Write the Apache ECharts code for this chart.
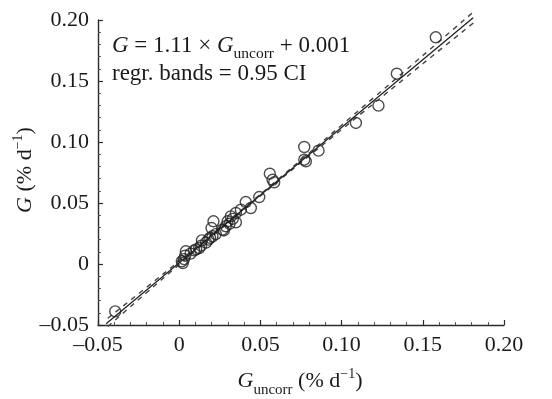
<!DOCTYPE html>
<html><head><meta charset="utf-8">
<script src="https://cdn.jsdelivr.net/npm/echarts@6/dist/echarts.min.js"></script>
<style>html,body{margin:0;padding:0;background:#fff}#c{width:552px;height:399px}</style>
</head><body><div id="c"></div>
<script>
// ---- data ----
const pointsX = [-0.0394,0.0016,0.0022,0.0030,0.0037,0.0041,0.0070,0.0092,0.0105,0.0123,0.0140,0.0135,0.0165,0.0180,0.0190,0.0199,0.0211,0.0205,0.0225,0.0267,0.0275,0.0287,0.0298,0.0318,0.0310,0.0330,0.0349,0.0349,0.0380,0.0410,0.0441,0.0493,0.0558,0.0575,0.0585,0.0770,0.0770,0.0780,0.0858,0.1088,0.1227,0.1340,0.1580];
const pointsY = [-0.0388,0.0022,0.0008,0.0040,0.0068,0.0104,0.0085,0.0112,0.0120,0.0131,0.0194,0.0150,0.0175,0.0200,0.0215,0.0295,0.0350,0.0227,0.0245,0.0281,0.0275,0.0309,0.0350,0.0390,0.0330,0.0370,0.0418,0.0342,0.0445,0.0508,0.0459,0.0549,0.0740,0.0690,0.0670,0.0959,0.0855,0.0842,0.0929,0.1156,0.1298,0.1560,0.1858];
const fitX = [-0.045, 0.181];
const fitY = [-0.0490, 0.2019];
const bandX = [-0.044,-0.02,0.0,0.02,0.04,0.06,0.08,0.10,0.12,0.14,0.16,0.182];
const bandUpper = [-0.0445,-0.0190,0.0024,0.0241,0.0461,0.0684,0.0910,0.1138,0.1366,0.1594,0.1823,0.2075];
const bandLower = [-0.0512,-0.0234,-0.0004,0.0223,0.0447,0.0668,0.0886,0.1102,0.1318,0.1534,0.1749,0.1985];
const xTicks = [-0.05,0,0.05,0.10,0.15,0.20];
const yTicks = [-0.05,0,0.05,0.10,0.15,0.20];
const annotation1 = ['G',' = 1.11 × ','G','uncorr',' + 0.001'];
const annotation2 = 'regr. bands = 0.95 CI';

// ---- helpers ----
const FAM = '"Liberation Serif","DejaVu Serif",serif';
const cv = document.createElement('canvas').getContext('2d');
function fnt(sz, it){ return (it?'italic ':'') + sz + 'px ' + FAM; }
function measure(t, sz, it){ cv.font = fnt(sz,it); return cv.measureText(t).width; }
function fmt(v){ if (Math.abs(v) < 1e-9) return '0'; const s = Math.abs(v).toFixed(2); return (v<0?'\u2013':'') + s; }
function row(segs, x0, base){
  const out = []; let x = x0;
  segs.forEach(s => {
    const w = measure(s.t, s.sz, s.it);
    out.push({type:'text', x: x, y: base + (s.dy||0) - 0.30*s.sz, silent:true,
      style:{text:s.t, font: fnt(s.sz,s.it), fill:'#1a1a1a', align:'left', verticalAlign:'middle'}});
    x += w;
  });
  return {children: out, width: x - x0};
}
function rowWidth(segs){ return segs.reduce((a,s)=>a+measure(s.t,s.sz,s.it),0); }

const chart = echarts.init(document.getElementById('c'), null, {renderer:'canvas'});

const a1 = [
  {t:annotation1[0], sz:23, it:true},
  {t:annotation1[1], sz:23},
  {t:annotation1[2], sz:23, it:true},
  {t:annotation1[3], sz:15.5, dy:6},
  {t:annotation1[4], sz:23}
];
const a2 = [{t:annotation2, sz:23}];
const xt = [
  {t:'G', sz:22, it:true},
  {t:'uncorr', sz:15, dy:7},
  {t:' (% d', sz:22},
  {t:'\u22121', sz:14, dy:-9},
  {t:')', sz:22}
];
const yt = [
  {t:'G', sz:22, it:true},
  {t:' (% d', sz:22},
  {t:'\u22121', sz:14, dy:-9},
  {t:')', sz:22}
];
const xtW = rowWidth(xt), ytW = rowWidth(yt);

const graphics = [
  ...row(a1, 112, 53).children,
  ...row(a2, 112, 81).children,
  ...row(xt, 300 - xtW/2, 388).children,
  {type:'group', x: 32, y: 170, rotation: Math.PI/2, children: row(yt, -ytW/2, 0).children}
];

const axisCommon = {
  type:'value', interval:0.05,
  axisLine:{show:true, onZero:false, lineStyle:{color:'#2b2b2b', width:1.4}},
  axisTick:{show:true, inside:true, length:5, lineStyle:{color:'#2b2b2b', width:1.2}},
  minorTick:{show:true, splitNumber:5, length:3, lineStyle:{color:'#555', width:1}},
  splitLine:{show:false},
  axisLabel:{formatter:fmt, fontFamily:FAM, fontSize:22, color:'#1a1a1a', margin:9}
};

chart.setOption({
  animation:false,
  backgroundColor:'#fff',
  grid:{left:98, right:48, top:20, bottom:74},
  xAxis:Object.assign({}, axisCommon, {min:xTicks[0], max:xTicks[xTicks.length-1]}),
  yAxis:Object.assign({}, axisCommon, {min:yTicks[0], max:yTicks[yTicks.length-1]}),
  series:[
    {type:'line', data:bandUpper.map((v,i)=>[bandX[i],v]), showSymbol:false, symbol:'none', clip:false, smooth:true,
      lineStyle:{color:'#444', width:1.4, type:[5,5]}, z:2},
    {type:'line', data:bandLower.map((v,i)=>[bandX[i],v]), showSymbol:false, symbol:'none', clip:false, smooth:true,
      lineStyle:{color:'#444', width:1.4, type:[5,5]}, z:2},
    {type:'line', data:fitY.map((v,i)=>[fitX[i],v]), showSymbol:false, symbol:'none', clip:false,
      lineStyle:{color:'#222', width:1.3}, z:3},
    {type:'scatter', data:pointsY.map((v,i)=>[pointsX[i],v]), symbol:'circle', symbolSize:11,
      itemStyle:{color:'rgba(0,0,0,0)', borderColor:'#222', borderWidth:1.4}, z:4}
  ],
  graphic:graphics
});
</script>
</body></html>
